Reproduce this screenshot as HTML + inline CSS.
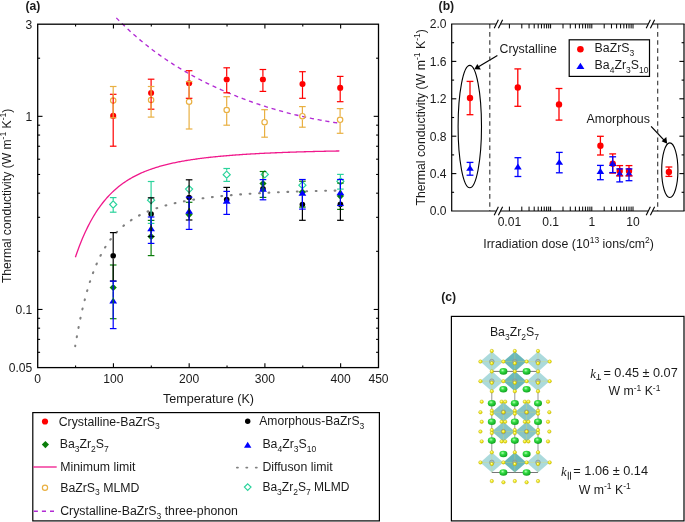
<!DOCTYPE html>
<html><head><meta charset="utf-8"><style>
html,body{margin:0;padding:0;background:#fff;}
svg{display:block;font-family:"Liberation Sans", sans-serif;will-change:transform;}
text{fill:#1a1a1a;}
</style></head><body>
<svg width="685" height="522" viewBox="0 0 685 522">
<defs>
<radialGradient id="gg" cx="0.4" cy="0.35" r="0.7"><stop offset="0" stop-color="#b8ffb8"/><stop offset="0.35" stop-color="#33dd44"/><stop offset="1" stop-color="#0a9a1a"/></radialGradient>
<radialGradient id="gy" cx="0.4" cy="0.35" r="0.7"><stop offset="0" stop-color="#ffffb0"/><stop offset="0.5" stop-color="#f5ef20"/><stop offset="1" stop-color="#cfc300"/></radialGradient>
</defs>
<rect width="685" height="522" fill="#fff"/>
<text x="25.50" y="10.30" font-size="12.2" text-anchor="start" font-weight="bold">(a)</text>
<path d="M75.40 257.19 L76.40 254.27 L77.40 251.44 L78.40 248.70 L79.40 246.05 L80.40 243.48 L81.40 241.00 L82.40 238.59 L83.40 236.25 L84.40 233.99 L85.40 231.80 L86.40 229.67 L87.40 227.62 L88.40 225.62 L89.40 223.69 L90.40 221.81 L91.40 219.99 L92.40 218.23 L93.40 216.52 L94.40 214.86 L95.40 213.25 L96.40 211.69 L97.40 210.18 L98.40 208.71 L99.40 207.29 L100.40 205.91 L101.40 204.56 L102.40 203.26 L103.40 202.00 L104.40 200.77 L105.40 199.58 L106.40 198.42 L107.40 197.30 L108.40 196.21 L109.40 195.15 L110.40 194.12 L111.40 193.12 L112.40 192.14 L113.40 191.20 L114.40 190.28 L115.40 189.39 L116.40 188.52 L117.40 187.67 L118.40 186.85 L119.40 186.05 L120.40 185.28 L121.40 184.52 L122.40 183.79 L123.40 183.07 L124.40 182.38 L125.40 181.70 L126.40 181.04 L127.40 180.40 L128.40 179.77 L129.40 179.16 L130.40 178.57 L131.40 177.99 L132.40 177.43 L133.40 176.88 L134.40 176.34 L135.40 175.82 L136.40 175.32 L137.40 174.82 L138.40 174.34 L139.40 173.87 L140.40 173.41 L141.40 172.96 L142.40 172.52 L143.40 172.10 L144.40 171.68 L145.40 171.27 L146.40 170.88 L147.40 170.49 L148.40 170.11 L149.40 169.74 L150.40 169.38 L151.40 169.03 L152.40 168.69 L153.40 168.35 L154.40 168.02 L155.40 167.70 L156.40 167.39 L157.40 167.08 L158.40 166.78 L159.40 166.49 L160.40 166.20 L161.40 165.92 L162.40 165.64 L163.40 165.38 L164.40 165.11 L165.40 164.86 L166.40 164.60 L167.40 164.36 L168.40 164.12 L169.40 163.88 L170.40 163.65 L171.40 163.42 L172.40 163.20 L173.40 162.98 L174.40 162.77 L175.40 162.56 L176.40 162.35 L177.40 162.15 L178.40 161.96 L179.40 161.76 L180.40 161.58 L181.40 161.39 L182.40 161.21 L183.40 161.03 L184.40 160.85 L185.40 160.68 L186.40 160.51 L187.40 160.35 L188.40 160.19 L189.40 160.03 L190.40 159.87 L191.40 159.72 L192.40 159.57 L193.40 159.42 L194.40 159.27 L195.40 159.13 L196.40 158.99 L197.40 158.85 L198.40 158.72 L199.40 158.58 L200.40 158.45 L201.40 158.33 L202.40 158.20 L203.40 158.08 L204.40 157.95 L205.40 157.83 L206.40 157.72 L207.40 157.60 L208.40 157.49 L209.40 157.37 L210.40 157.26 L211.40 157.16 L212.40 157.05 L213.40 156.94 L214.40 156.84 L215.40 156.74 L216.40 156.64 L217.40 156.54 L218.40 156.45 L219.40 156.35 L220.40 156.26 L221.40 156.16 L222.40 156.07 L223.40 155.98 L224.40 155.90 L225.40 155.81 L226.40 155.73 L227.40 155.64 L228.40 155.56 L229.40 155.48 L230.40 155.40 L231.40 155.32 L232.40 155.24 L233.40 155.16 L234.40 155.09 L235.40 155.01 L236.40 154.94 L237.40 154.87 L238.40 154.80 L239.40 154.73 L240.40 154.66 L241.40 154.59 L242.40 154.52 L243.40 154.46 L244.40 154.39 L245.40 154.33 L246.40 154.27 L247.40 154.20 L248.40 154.14 L249.40 154.08 L250.40 154.02 L251.40 153.96 L252.40 153.91 L253.40 153.85 L254.40 153.79 L255.40 153.74 L256.40 153.68 L257.40 153.63 L258.40 153.57 L259.40 153.52 L260.40 153.47 L261.40 153.42 L262.40 153.37 L263.40 153.32 L264.40 153.27 L265.40 153.22 L266.40 153.17 L267.40 153.13 L268.40 153.08 L269.40 153.03 L270.40 152.99 L271.40 152.94 L272.40 152.90 L273.40 152.86 L274.40 152.81 L275.40 152.77 L276.40 152.73 L277.40 152.69 L278.40 152.65 L279.40 152.61 L280.40 152.57 L281.40 152.53 L282.40 152.49 L283.40 152.46 L284.40 152.42 L285.40 152.38 L286.40 152.34 L287.40 152.31 L288.40 152.27 L289.40 152.24 L290.40 152.20 L291.40 152.17 L292.40 152.14 L293.40 152.10 L294.40 152.07 L295.40 152.04 L296.40 152.01 L297.40 151.97 L298.40 151.94 L299.40 151.91 L300.40 151.88 L301.40 151.85 L302.40 151.82 L303.40 151.79 L304.40 151.77 L305.40 151.74 L306.40 151.71 L307.40 151.68 L308.40 151.65 L309.40 151.63 L310.40 151.60 L311.40 151.57 L312.40 151.55 L313.40 151.52 L314.40 151.50 L315.40 151.47 L316.40 151.45 L317.40 151.42 L318.40 151.40 L319.40 151.38 L320.40 151.35 L321.40 151.33 L322.40 151.31 L323.40 151.29 L324.40 151.26 L325.40 151.24 L326.40 151.22 L327.40 151.20 L328.40 151.18 L329.40 151.16 L330.40 151.14 L331.40 151.12 L332.40 151.10 L333.40 151.08 L334.40 151.06 L335.40 151.04 L336.40 151.02 L337.40 151.00 L338.40 150.98 L339.40 150.96" fill="none" stroke="#f0198c" stroke-width="1.3"/>
<path d="M75.20 346.18 L75.70 343.21 L76.20 340.30 L76.70 337.46 L77.20 334.68 L77.70 331.97 L78.20 329.32 L78.70 326.74 L79.20 324.21 L79.70 321.74 L80.20 319.32 L80.70 316.97 L81.20 314.66 L81.70 312.41 L82.20 310.21 L82.70 308.06 L83.20 305.95 L83.70 303.90 L84.20 301.89 L84.70 299.92 L85.20 298.00 L85.70 296.12 L86.20 294.29 L86.70 292.49 L87.20 290.74 L87.70 289.02 L88.20 287.34 L88.70 285.70 L89.20 284.09 L89.70 282.52 L90.20 280.98 L90.70 279.48 L91.20 278.01 L91.70 276.57 L92.20 275.16 L92.70 273.78 L93.20 272.43 L93.70 271.11 L94.20 269.82 L94.70 268.55 L95.20 267.32 L95.70 266.10 L96.20 264.92 L96.70 263.76 L97.20 262.62 L97.70 261.50 L98.20 260.41 L98.70 259.35 L99.20 258.30 L99.70 257.27 L100.20 256.27 L100.70 255.29 L101.20 254.32 L101.70 253.38 L102.20 252.45 L102.70 251.55 L103.20 250.66 L103.70 249.79 L104.20 248.93 L104.70 248.10 L105.20 247.28 L105.70 246.47 L106.20 245.68 L106.70 244.91 L107.20 244.15 L107.70 243.41 L108.20 242.68 L108.70 241.96 L109.20 241.26 L109.70 240.57 L110.20 239.90 L110.70 239.23 L111.20 238.58 L111.70 237.95 L112.20 237.32 L112.70 236.70 L113.20 236.10 L113.70 235.51 L114.20 234.92 L114.70 234.35 L115.20 233.79 L115.70 233.24 L116.20 232.70 L116.70 232.17 L117.20 231.65 L117.70 231.13 L118.20 230.63 L118.70 230.13 L119.20 229.65 L119.70 229.17 L120.20 228.70 L120.70 228.24 L121.20 227.78 L121.70 227.33 L122.20 226.90 L122.70 226.46 L123.20 226.04 L123.70 225.62 L124.20 225.21 L124.70 224.81 L125.20 224.41 L125.70 224.02 L126.20 223.63 L126.70 223.25 L127.20 222.88 L127.70 222.52 L128.20 222.15 L128.70 221.80 L129.20 221.45 L129.70 221.11 L130.20 220.77 L130.70 220.43 L131.20 220.10 L131.70 219.78 L132.20 219.46 L132.70 219.15 L133.20 218.84 L133.70 218.53 L134.20 218.23 L134.70 217.94 L135.20 217.65 L135.70 217.36 L136.20 217.07 L136.70 216.80 L137.20 216.52 L137.70 216.25 L138.20 215.98 L138.70 215.72 L139.20 215.46 L139.70 215.20 L140.20 214.95 L140.70 214.70 L141.20 214.45 L141.70 214.21 L142.20 213.97 L142.70 213.73 L143.20 213.50 L143.70 213.27 L144.20 213.04 L144.70 212.82 L145.20 212.60 L145.70 212.38 L146.20 212.17 L146.70 211.95 L147.20 211.74 L147.70 211.54 L148.20 211.33 L148.70 211.13 L149.20 210.93 L149.70 210.73 L150.20 210.54 L150.70 210.34 L151.20 210.15 L151.70 209.97 L152.20 209.78 L152.70 209.60 L153.20 209.42 L153.70 209.24 L154.20 209.06 L154.70 208.89 L155.20 208.71 L155.70 208.54 L156.20 208.37 L156.70 208.21 L157.20 208.04 L157.70 207.88 L158.20 207.72 L158.70 207.56 L159.20 207.40 L159.70 207.24 L160.20 207.09 L160.70 206.94 L161.20 206.79 L161.70 206.64 L162.20 206.49 L162.70 206.34 L163.20 206.20 L163.70 206.06 L164.20 205.92 L164.70 205.78 L165.20 205.64 L165.70 205.50 L166.20 205.37 L166.70 205.23 L167.20 205.10 L167.70 204.97 L168.20 204.84 L168.70 204.71 L169.20 204.58 L169.70 204.46 L170.20 204.33 L170.70 204.21 L171.20 204.09 L171.70 203.97 L172.20 203.85 L172.70 203.73 L173.20 203.61 L173.70 203.49 L174.20 203.38 L174.70 203.26 L175.20 203.15 L175.70 203.04 L176.20 202.93 L176.70 202.82 L177.20 202.71 L177.70 202.60 L178.20 202.50 L178.70 202.39 L179.20 202.29 L179.70 202.18 L180.20 202.08 L180.70 201.98 L181.20 201.88 L181.70 201.78 L182.20 201.68 L182.70 201.58 L183.20 201.48 L183.70 201.39 L184.20 201.29 L184.70 201.20 L185.20 201.10 L185.70 201.01 L186.20 200.92 L186.70 200.83 L187.20 200.74 L187.70 200.65 L188.20 200.56 L188.70 200.47 L189.20 200.38 L189.70 200.30 L190.20 200.21 L190.70 200.13 L191.20 200.04 L191.70 199.96 L192.20 199.88 L192.70 199.80 L193.20 199.71 L193.70 199.63 L194.20 199.55 L194.70 199.47 L195.20 199.40 L195.70 199.32 L196.20 199.24 L196.70 199.16 L197.20 199.09 L197.70 199.01 L198.20 198.94 L198.70 198.87 L199.20 198.79 L199.70 198.72 L200.20 198.65 L200.70 198.58 L201.20 198.51 L201.70 198.44 L202.20 198.37 L202.70 198.30 L203.20 198.23 L203.70 198.16 L204.20 198.09 L204.70 198.03 L205.20 197.96 L205.70 197.89 L206.20 197.83 L206.70 197.76 L207.20 197.70 L207.70 197.64 L208.20 197.57 L208.70 197.51 L209.20 197.45 L209.70 197.39 L210.20 197.33 L210.70 197.26 L211.20 197.20 L211.70 197.15 L212.20 197.09 L212.70 197.03 L213.20 196.97 L213.70 196.91 L214.20 196.85 L214.70 196.80 L215.20 196.74 L215.70 196.69 L216.20 196.63 L216.70 196.57 L217.20 196.52 L217.70 196.47 L218.20 196.41 L218.70 196.36 L219.20 196.31 L219.70 196.25 L220.20 196.20 L220.70 196.15 L221.20 196.10 L221.70 196.05 L222.20 196.00 L222.70 195.95 L223.20 195.90 L223.70 195.85 L224.20 195.80 L224.70 195.75 L225.20 195.70 L225.70 195.66 L226.20 195.61 L226.70 195.56 L227.20 195.52 L227.70 195.47 L228.20 195.42 L228.70 195.38 L229.20 195.33 L229.70 195.29 L230.20 195.24 L230.70 195.20 L231.20 195.16 L231.70 195.11 L232.20 195.07 L232.70 195.03 L233.20 194.98 L233.70 194.94 L234.20 194.90 L234.70 194.86 L235.20 194.82 L235.70 194.78 L236.20 194.74 L236.70 194.70 L237.20 194.66 L237.70 194.62 L238.20 194.58 L238.70 194.54 L239.20 194.50 L239.70 194.46 L240.20 194.42 L240.70 194.39 L241.20 194.35 L241.70 194.31 L242.20 194.27 L242.70 194.24 L243.20 194.20 L243.70 194.16 L244.20 194.13 L244.70 194.09 L245.20 194.06 L245.70 194.02 L246.20 193.99 L246.70 193.95 L247.20 193.92 L247.70 193.89 L248.20 193.85 L248.70 193.82 L249.20 193.79 L249.70 193.75 L250.20 193.72 L250.70 193.69 L251.20 193.65 L251.70 193.62 L252.20 193.59 L252.70 193.56 L253.20 193.53 L253.70 193.50 L254.20 193.47 L254.70 193.44 L255.20 193.41 L255.70 193.38 L256.20 193.35 L256.70 193.32 L257.20 193.29 L257.70 193.26 L258.20 193.23 L258.70 193.20 L259.20 193.17 L259.70 193.14 L260.20 193.12 L260.70 193.09 L261.20 193.06 L261.70 193.03 L262.20 193.01 L262.70 192.98 L263.20 192.95 L263.70 192.93 L264.20 192.90 L264.70 192.87 L265.20 192.85 L265.70 192.82 L266.20 192.79 L266.70 192.77 L267.20 192.74 L267.70 192.72 L268.20 192.69 L268.70 192.67 L269.20 192.65 L269.70 192.62 L270.20 192.60 L270.70 192.57 L271.20 192.55 L271.70 192.53 L272.20 192.50 L272.70 192.48 L273.20 192.46 L273.70 192.43 L274.20 192.41 L274.70 192.39 L275.20 192.37 L275.70 192.34 L276.20 192.32 L276.70 192.30 L277.20 192.28 L277.70 192.26 L278.20 192.23 L278.70 192.21 L279.20 192.19 L279.70 192.17 L280.20 192.15 L280.70 192.13 L281.20 192.11 L281.70 192.09 L282.20 192.07 L282.70 192.05 L283.20 192.03 L283.70 192.01 L284.20 191.99 L284.70 191.97 L285.20 191.95 L285.70 191.93 L286.20 191.91 L286.70 191.89 L287.20 191.88 L287.70 191.86 L288.20 191.84 L288.70 191.82 L289.20 191.80 L289.70 191.78 L290.20 191.77 L290.70 191.75 L291.20 191.73 L291.70 191.71 L292.20 191.70 L292.70 191.68 L293.20 191.66 L293.70 191.64 L294.20 191.63 L294.70 191.61 L295.20 191.59 L295.70 191.58 L296.20 191.56 L296.70 191.55 L297.20 191.53 L297.70 191.51 L298.20 191.50 L298.70 191.48 L299.20 191.47 L299.70 191.45 L300.20 191.44 L300.70 191.42 L301.20 191.41 L301.70 191.39 L302.20 191.38 L302.70 191.36 L303.20 191.35 L303.70 191.33 L304.20 191.32 L304.70 191.30 L305.20 191.29 L305.70 191.27 L306.20 191.26 L306.70 191.25 L307.20 191.23 L307.70 191.22 L308.20 191.20 L308.70 191.19 L309.20 191.18 L309.70 191.16 L310.20 191.15 L310.70 191.14 L311.20 191.13 L311.70 191.11 L312.20 191.10 L312.70 191.09 L313.20 191.07 L313.70 191.06 L314.20 191.05 L314.70 191.04 L315.20 191.02 L315.70 191.01 L316.20 191.00 L316.70 190.99 L317.20 190.98 L317.70 190.96 L318.20 190.95 L318.70 190.94 L319.20 190.93 L319.70 190.92 L320.20 190.91 L320.70 190.90 L321.20 190.88 L321.70 190.87 L322.20 190.86 L322.70 190.85 L323.20 190.84 L323.70 190.83 L324.20 190.82 L324.70 190.81 L325.20 190.80 L325.70 190.79 L326.20 190.78 L326.70 190.77 L327.20 190.76 L327.70 190.75 L328.20 190.74 L328.70 190.73 L329.20 190.72 L329.70 190.71 L330.20 190.70 L330.70 190.69 L331.20 190.68 L331.70 190.67 L332.20 190.66 L332.70 190.65 L333.20 190.64 L333.70 190.63 L334.20 190.62 L334.70 190.61 L335.20 190.60 L335.70 190.59 L336.20 190.58 L336.70 190.57 L337.20 190.57 L337.70 190.56 L338.20 190.55 L338.70 190.54 L339.20 190.53 L339.70 190.52" fill="none" stroke="#808080" stroke-width="2.1" stroke-linecap="round" stroke-dasharray="0.8 8.6523" stroke-dashoffset="0.29"/>
<path d="M116.30 17.87 L117.30 18.89 L118.30 19.90 L119.30 20.90 L120.30 21.89 L121.30 22.88 L122.30 23.86 L123.30 24.82 L124.30 25.79 L125.30 26.74 L126.30 27.68 L127.30 28.62 L128.30 29.55 L129.30 30.47 L130.30 31.39 L131.30 32.30 L132.30 33.20 L133.30 34.09 L134.30 34.97 L135.30 35.85 L136.30 36.72 L137.30 37.59 L138.30 38.44 L139.30 39.29 L140.30 40.13 L141.30 40.97 L142.30 41.80 L143.30 42.62 L144.30 43.43 L145.30 44.24 L146.30 45.04 L147.30 45.83 L148.30 46.62 L149.30 47.40 L150.30 48.18 L151.30 48.95 L152.30 49.71 L153.30 50.46 L154.30 51.21 L155.30 51.96 L156.30 52.69 L157.30 53.42 L158.30 54.15 L159.30 54.86 L160.30 55.58 L161.30 56.28 L162.30 56.98 L163.30 57.68 L164.30 58.37 L165.30 59.05 L166.30 59.73 L167.30 60.40 L168.30 61.07 L169.30 61.73 L170.30 62.38 L171.30 63.03 L172.30 63.68 L173.30 64.32 L174.30 64.95 L175.30 65.58 L176.30 66.20 L177.30 66.82 L178.30 67.44 L179.30 68.04 L180.30 68.65 L181.30 69.25 L182.30 69.84 L183.30 70.43 L184.30 71.01 L185.30 71.59 L186.30 72.17 L187.30 72.74 L188.30 73.31 L189.30 73.87 L190.30 74.43 L191.30 74.98 L192.30 75.53 L193.30 76.07 L194.30 76.61 L195.30 77.15 L196.30 77.68 L197.30 78.21 L198.30 78.73 L199.30 79.25 L200.30 79.77 L201.30 80.28 L202.30 80.79 L203.30 81.29 L204.30 81.80 L205.30 82.29 L206.30 82.79 L207.30 83.28 L208.30 83.77 L209.30 84.25 L210.30 84.73 L211.30 85.21 L212.30 85.68 L213.30 86.15 L214.30 86.62 L215.30 87.08 L216.30 87.54 L217.30 88.00 L218.30 88.46 L219.30 88.91 L220.30 89.36 L221.30 89.80 L222.30 90.25 L223.30 90.68 L224.30 91.12 L225.30 91.55 L226.30 91.98 L227.30 92.41 L228.30 92.83 L229.30 93.25 L230.30 93.67 L231.30 94.09 L232.30 94.50 L233.30 94.91 L234.30 95.31 L235.30 95.72 L236.30 96.12 L237.30 96.51 L238.30 96.91 L239.30 97.30 L240.30 97.68 L241.30 98.07 L242.30 98.45 L243.30 98.83 L244.30 99.21 L245.30 99.58 L246.30 99.95 L247.30 100.32 L248.30 100.68 L249.30 101.05 L250.30 101.40 L251.30 101.76 L252.30 102.11 L253.30 102.46 L254.30 102.81 L255.30 103.16 L256.30 103.50 L257.30 103.84 L258.30 104.18 L259.30 104.51 L260.30 104.84 L261.30 105.17 L262.30 105.50 L263.30 105.82 L264.30 106.14 L265.30 106.46 L266.30 106.77 L267.30 107.08 L268.30 107.39 L269.30 107.70 L270.30 108.00 L271.30 108.31 L272.30 108.61 L273.30 108.90 L274.30 109.20 L275.30 109.49 L276.30 109.78 L277.30 110.06 L278.30 110.35 L279.30 110.63 L280.30 110.91 L281.30 111.18 L282.30 111.46 L283.30 111.73 L284.30 112.00 L285.30 112.26 L286.30 112.52 L287.30 112.79 L288.30 113.04 L289.30 113.30 L290.30 113.55 L291.30 113.81 L292.30 114.05 L293.30 114.30 L294.30 114.55 L295.30 114.79 L296.30 115.03 L297.30 115.26 L298.30 115.50 L299.30 115.73 L300.30 115.96 L301.30 116.19 L302.30 116.41 L303.30 116.64 L304.30 116.86 L305.30 117.07 L306.30 117.29 L307.30 117.50 L308.30 117.72 L309.30 117.93 L310.30 118.13 L311.30 118.34 L312.30 118.54 L313.30 118.74 L314.30 118.94 L315.30 119.13 L316.30 119.33 L317.30 119.52 L318.30 119.71 L319.30 119.90 L320.30 120.08 L321.30 120.27 L322.30 120.45 L323.30 120.63 L324.30 120.80 L325.30 120.98 L326.30 121.15 L327.30 121.32 L328.30 121.49 L329.30 121.66 L330.30 121.82 L331.30 121.98 L332.30 122.14 L333.30 122.30 L334.30 122.46 L335.30 122.61 L336.30 122.76 L337.30 122.91 L338.30 123.06 L339.30 123.21" fill="none" stroke="#b22ad4" stroke-width="1.35" stroke-dasharray="4.1 3.8"/>
<circle cx="113.20" cy="115.90" r="3.05" fill="#ff0000" stroke="none" stroke-width="0"/>
<circle cx="151.10" cy="93.00" r="3.05" fill="#ff0000" stroke="none" stroke-width="0"/>
<circle cx="189.10" cy="83.30" r="3.05" fill="#ff0000" stroke="none" stroke-width="0"/>
<circle cx="226.70" cy="79.50" r="3.05" fill="#ff0000" stroke="none" stroke-width="0"/>
<circle cx="262.90" cy="79.50" r="3.05" fill="#ff0000" stroke="none" stroke-width="0"/>
<circle cx="302.50" cy="84.10" r="3.05" fill="#ff0000" stroke="none" stroke-width="0"/>
<circle cx="340.20" cy="87.90" r="3.05" fill="#ff0000" stroke="none" stroke-width="0"/>
<circle cx="113.20" cy="100.60" r="2.7" fill="none" stroke="#e9b042" stroke-width="1.2"/>
<circle cx="151.10" cy="100.00" r="2.7" fill="none" stroke="#e9b042" stroke-width="1.2"/>
<circle cx="189.10" cy="101.70" r="2.7" fill="none" stroke="#e9b042" stroke-width="1.2"/>
<circle cx="226.70" cy="110.00" r="2.7" fill="none" stroke="#e9b042" stroke-width="1.2"/>
<circle cx="264.60" cy="122.20" r="2.7" fill="none" stroke="#e9b042" stroke-width="1.2"/>
<circle cx="302.40" cy="116.20" r="2.7" fill="none" stroke="#e9b042" stroke-width="1.2"/>
<circle cx="340.10" cy="119.80" r="2.7" fill="none" stroke="#e9b042" stroke-width="1.2"/>
<circle cx="113.20" cy="255.70" r="2.8" fill="#000000" stroke="none" stroke-width="0"/>
<circle cx="151.10" cy="214.10" r="2.8" fill="#000000" stroke="none" stroke-width="0"/>
<circle cx="189.10" cy="197.50" r="2.8" fill="#000000" stroke="none" stroke-width="0"/>
<circle cx="226.70" cy="199.60" r="2.8" fill="#000000" stroke="none" stroke-width="0"/>
<circle cx="263.00" cy="188.70" r="2.8" fill="#000000" stroke="none" stroke-width="0"/>
<circle cx="302.40" cy="204.60" r="2.8" fill="#000000" stroke="none" stroke-width="0"/>
<circle cx="340.40" cy="204.20" r="2.8" fill="#000000" stroke="none" stroke-width="0"/>
<path d="M113.20 284.00 L116.80 287.60 L113.20 291.20 L109.60 287.60 Z" fill="#0a7d0a" stroke="none" stroke-width="0"/>
<path d="M151.10 233.00 L154.70 236.60 L151.10 240.20 L147.50 236.60 Z" fill="#0a7d0a" stroke="none" stroke-width="0"/>
<path d="M189.10 211.00 L192.70 214.60 L189.10 218.20 L185.50 214.60 Z" fill="#0a7d0a" stroke="none" stroke-width="0"/>
<path d="M263.00 179.90 L266.60 183.50 L263.00 187.10 L259.40 183.50 Z" fill="#0a7d0a" stroke="none" stroke-width="0"/>
<path d="M302.40 188.50 L306.00 192.10 L302.40 195.70 L298.80 192.10 Z" fill="#0a7d0a" stroke="none" stroke-width="0"/>
<path d="M340.40 192.50 L344.00 196.10 L340.40 199.70 L336.80 196.10 Z" fill="#0a7d0a" stroke="none" stroke-width="0"/>
<path d="M113.20 297.49 L117.10 303.57 L109.30 303.57 Z" fill="#0000ff"/>
<path d="M151.10 225.19 L155.00 231.27 L147.20 231.27 Z" fill="#0000ff"/>
<path d="M189.10 207.79 L193.00 213.87 L185.20 213.87 Z" fill="#0000ff"/>
<path d="M226.70 197.59 L230.60 203.67 L222.80 203.67 Z" fill="#0000ff"/>
<path d="M263.00 185.69 L266.90 191.77 L259.10 191.77 Z" fill="#0000ff"/>
<path d="M302.40 189.79 L306.30 195.87 L298.50 195.87 Z" fill="#0000ff"/>
<path d="M340.40 189.29 L344.30 195.37 L336.50 195.37 Z" fill="#0000ff"/>
<path d="M113.20 200.95 L116.75 204.50 L113.20 208.05 L109.65 204.50 Z" fill="none" stroke="#2bd39c" stroke-width="1.2"/>
<path d="M151.10 196.65 L154.65 200.20 L151.10 203.75 L147.55 200.20 Z" fill="none" stroke="#2bd39c" stroke-width="1.2"/>
<path d="M189.10 185.55 L192.65 189.10 L189.10 192.65 L185.55 189.10 Z" fill="none" stroke="#2bd39c" stroke-width="1.2"/>
<path d="M226.70 171.15 L230.25 174.70 L226.70 178.25 L223.15 174.70 Z" fill="none" stroke="#2bd39c" stroke-width="1.2"/>
<path d="M264.80 170.85 L268.35 174.40 L264.80 177.95 L261.25 174.40 Z" fill="none" stroke="#2bd39c" stroke-width="1.2"/>
<path d="M302.40 181.65 L305.95 185.20 L302.40 188.75 L298.85 185.20 Z" fill="none" stroke="#2bd39c" stroke-width="1.2"/>
<path d="M340.40 177.75 L343.95 181.30 L340.40 184.85 L336.85 181.30 Z" fill="none" stroke="#2bd39c" stroke-width="1.2"/>
<line x1="113.20" y1="94.30" x2="113.20" y2="112.90" stroke="#ff0000" stroke-width="1.2" />
<line x1="109.90" y1="94.30" x2="116.50" y2="94.30" stroke="#ff0000" stroke-width="1.2" />
<line x1="113.20" y1="118.90" x2="113.20" y2="146.20" stroke="#ff0000" stroke-width="1.2" />
<line x1="109.90" y1="146.20" x2="116.50" y2="146.20" stroke="#ff0000" stroke-width="1.2" />
<line x1="151.10" y1="79.20" x2="151.10" y2="90.00" stroke="#ff0000" stroke-width="1.2" />
<line x1="147.80" y1="79.20" x2="154.40" y2="79.20" stroke="#ff0000" stroke-width="1.2" />
<line x1="151.10" y1="96.00" x2="151.10" y2="109.20" stroke="#ff0000" stroke-width="1.2" />
<line x1="147.80" y1="109.20" x2="154.40" y2="109.20" stroke="#ff0000" stroke-width="1.2" />
<line x1="189.10" y1="70.70" x2="189.10" y2="80.30" stroke="#ff0000" stroke-width="1.2" />
<line x1="185.80" y1="70.70" x2="192.40" y2="70.70" stroke="#ff0000" stroke-width="1.2" />
<line x1="189.10" y1="86.30" x2="189.10" y2="98.30" stroke="#ff0000" stroke-width="1.2" />
<line x1="185.80" y1="98.30" x2="192.40" y2="98.30" stroke="#ff0000" stroke-width="1.2" />
<line x1="226.70" y1="67.80" x2="226.70" y2="76.50" stroke="#ff0000" stroke-width="1.2" />
<line x1="223.40" y1="67.80" x2="230.00" y2="67.80" stroke="#ff0000" stroke-width="1.2" />
<line x1="226.70" y1="82.50" x2="226.70" y2="92.80" stroke="#ff0000" stroke-width="1.2" />
<line x1="223.40" y1="92.80" x2="230.00" y2="92.80" stroke="#ff0000" stroke-width="1.2" />
<line x1="262.90" y1="69.50" x2="262.90" y2="76.50" stroke="#ff0000" stroke-width="1.2" />
<line x1="259.60" y1="69.50" x2="266.20" y2="69.50" stroke="#ff0000" stroke-width="1.2" />
<line x1="262.90" y1="82.50" x2="262.90" y2="91.40" stroke="#ff0000" stroke-width="1.2" />
<line x1="259.60" y1="91.40" x2="266.20" y2="91.40" stroke="#ff0000" stroke-width="1.2" />
<line x1="302.50" y1="71.70" x2="302.50" y2="81.10" stroke="#ff0000" stroke-width="1.2" />
<line x1="299.20" y1="71.70" x2="305.80" y2="71.70" stroke="#ff0000" stroke-width="1.2" />
<line x1="302.50" y1="87.10" x2="302.50" y2="98.30" stroke="#ff0000" stroke-width="1.2" />
<line x1="299.20" y1="98.30" x2="305.80" y2="98.30" stroke="#ff0000" stroke-width="1.2" />
<line x1="340.20" y1="76.40" x2="340.20" y2="84.90" stroke="#ff0000" stroke-width="1.2" />
<line x1="336.90" y1="76.40" x2="343.50" y2="76.40" stroke="#ff0000" stroke-width="1.2" />
<line x1="340.20" y1="90.90" x2="340.20" y2="101.70" stroke="#ff0000" stroke-width="1.2" />
<line x1="336.90" y1="101.70" x2="343.50" y2="101.70" stroke="#ff0000" stroke-width="1.2" />
<line x1="113.20" y1="86.50" x2="113.20" y2="97.40" stroke="#e9b042" stroke-width="1.2" />
<line x1="109.90" y1="86.50" x2="116.50" y2="86.50" stroke="#e9b042" stroke-width="1.2" />
<line x1="113.20" y1="103.80" x2="113.20" y2="117.80" stroke="#e9b042" stroke-width="1.2" />
<line x1="109.90" y1="117.80" x2="116.50" y2="117.80" stroke="#e9b042" stroke-width="1.2" />
<line x1="151.10" y1="86.50" x2="151.10" y2="96.80" stroke="#e9b042" stroke-width="1.2" />
<line x1="147.80" y1="86.50" x2="154.40" y2="86.50" stroke="#e9b042" stroke-width="1.2" />
<line x1="151.10" y1="103.20" x2="151.10" y2="117.10" stroke="#e9b042" stroke-width="1.2" />
<line x1="147.80" y1="117.10" x2="154.40" y2="117.10" stroke="#e9b042" stroke-width="1.2" />
<line x1="189.10" y1="81.60" x2="189.10" y2="98.50" stroke="#e9b042" stroke-width="1.2" />
<line x1="185.80" y1="81.60" x2="192.40" y2="81.60" stroke="#e9b042" stroke-width="1.2" />
<line x1="189.10" y1="104.90" x2="189.10" y2="129.00" stroke="#e9b042" stroke-width="1.2" />
<line x1="185.80" y1="129.00" x2="192.40" y2="129.00" stroke="#e9b042" stroke-width="1.2" />
<line x1="226.70" y1="96.70" x2="226.70" y2="106.80" stroke="#e9b042" stroke-width="1.2" />
<line x1="223.40" y1="96.70" x2="230.00" y2="96.70" stroke="#e9b042" stroke-width="1.2" />
<line x1="226.70" y1="113.20" x2="226.70" y2="125.20" stroke="#e9b042" stroke-width="1.2" />
<line x1="223.40" y1="125.20" x2="230.00" y2="125.20" stroke="#e9b042" stroke-width="1.2" />
<line x1="264.60" y1="109.70" x2="264.60" y2="119.00" stroke="#e9b042" stroke-width="1.2" />
<line x1="261.30" y1="109.70" x2="267.90" y2="109.70" stroke="#e9b042" stroke-width="1.2" />
<line x1="264.60" y1="125.40" x2="264.60" y2="137.20" stroke="#e9b042" stroke-width="1.2" />
<line x1="261.30" y1="137.20" x2="267.90" y2="137.20" stroke="#e9b042" stroke-width="1.2" />
<line x1="302.40" y1="106.60" x2="302.40" y2="113.00" stroke="#e9b042" stroke-width="1.2" />
<line x1="299.10" y1="106.60" x2="305.70" y2="106.60" stroke="#e9b042" stroke-width="1.2" />
<line x1="302.40" y1="119.40" x2="302.40" y2="127.20" stroke="#e9b042" stroke-width="1.2" />
<line x1="299.10" y1="127.20" x2="305.70" y2="127.20" stroke="#e9b042" stroke-width="1.2" />
<line x1="340.10" y1="108.60" x2="340.10" y2="116.60" stroke="#e9b042" stroke-width="1.2" />
<line x1="336.80" y1="108.60" x2="343.40" y2="108.60" stroke="#e9b042" stroke-width="1.2" />
<line x1="340.10" y1="123.00" x2="340.10" y2="133.30" stroke="#e9b042" stroke-width="1.2" />
<line x1="336.80" y1="133.30" x2="343.40" y2="133.30" stroke="#e9b042" stroke-width="1.2" />
<line x1="113.20" y1="265.00" x2="113.20" y2="284.00" stroke="#0a7d0a" stroke-width="1.2" />
<line x1="109.90" y1="265.00" x2="116.50" y2="265.00" stroke="#0a7d0a" stroke-width="1.2" />
<line x1="113.20" y1="291.20" x2="113.20" y2="318.70" stroke="#0a7d0a" stroke-width="1.2" />
<line x1="109.90" y1="318.70" x2="116.50" y2="318.70" stroke="#0a7d0a" stroke-width="1.2" />
<line x1="151.10" y1="220.40" x2="151.10" y2="233.00" stroke="#0a7d0a" stroke-width="1.2" />
<line x1="147.80" y1="220.40" x2="154.40" y2="220.40" stroke="#0a7d0a" stroke-width="1.2" />
<line x1="151.10" y1="240.20" x2="151.10" y2="255.60" stroke="#0a7d0a" stroke-width="1.2" />
<line x1="147.80" y1="255.60" x2="154.40" y2="255.60" stroke="#0a7d0a" stroke-width="1.2" />
<line x1="189.10" y1="202.30" x2="189.10" y2="211.00" stroke="#0a7d0a" stroke-width="1.2" />
<line x1="185.80" y1="202.30" x2="192.40" y2="202.30" stroke="#0a7d0a" stroke-width="1.2" />
<line x1="263.00" y1="171.50" x2="263.00" y2="179.90" stroke="#0a7d0a" stroke-width="1.2" />
<line x1="259.70" y1="171.50" x2="266.30" y2="171.50" stroke="#0a7d0a" stroke-width="1.2" />
<line x1="263.00" y1="187.10" x2="263.00" y2="197.40" stroke="#0a7d0a" stroke-width="1.2" />
<line x1="259.70" y1="197.40" x2="266.30" y2="197.40" stroke="#0a7d0a" stroke-width="1.2" />
<line x1="302.40" y1="181.20" x2="302.40" y2="188.50" stroke="#0a7d0a" stroke-width="1.2" />
<line x1="299.10" y1="181.20" x2="305.70" y2="181.20" stroke="#0a7d0a" stroke-width="1.2" />
<line x1="302.40" y1="195.70" x2="302.40" y2="207.10" stroke="#0a7d0a" stroke-width="1.2" />
<line x1="299.10" y1="207.10" x2="305.70" y2="207.10" stroke="#0a7d0a" stroke-width="1.2" />
<line x1="340.40" y1="183.10" x2="340.40" y2="192.50" stroke="#0a7d0a" stroke-width="1.2" />
<line x1="337.10" y1="183.10" x2="343.70" y2="183.10" stroke="#0a7d0a" stroke-width="1.2" />
<line x1="340.40" y1="199.70" x2="340.40" y2="209.40" stroke="#0a7d0a" stroke-width="1.2" />
<line x1="337.10" y1="209.40" x2="343.70" y2="209.40" stroke="#0a7d0a" stroke-width="1.2" />
<line x1="113.20" y1="232.60" x2="113.20" y2="252.90" stroke="#000000" stroke-width="1.2" />
<line x1="109.90" y1="232.60" x2="116.50" y2="232.60" stroke="#000000" stroke-width="1.2" />
<line x1="113.20" y1="258.50" x2="113.20" y2="281.10" stroke="#000000" stroke-width="1.2" />
<line x1="109.90" y1="281.10" x2="116.50" y2="281.10" stroke="#000000" stroke-width="1.2" />
<line x1="151.10" y1="197.80" x2="151.10" y2="211.30" stroke="#000000" stroke-width="1.2" />
<line x1="147.80" y1="197.80" x2="154.40" y2="197.80" stroke="#000000" stroke-width="1.2" />
<line x1="151.10" y1="216.90" x2="151.10" y2="236.50" stroke="#000000" stroke-width="1.2" />
<line x1="147.80" y1="236.50" x2="154.40" y2="236.50" stroke="#000000" stroke-width="1.2" />
<line x1="189.10" y1="179.80" x2="189.10" y2="194.70" stroke="#000000" stroke-width="1.2" />
<line x1="185.80" y1="179.80" x2="192.40" y2="179.80" stroke="#000000" stroke-width="1.2" />
<line x1="189.10" y1="200.30" x2="189.10" y2="220.00" stroke="#000000" stroke-width="1.2" />
<line x1="185.80" y1="220.00" x2="192.40" y2="220.00" stroke="#000000" stroke-width="1.2" />
<line x1="226.70" y1="187.40" x2="226.70" y2="196.80" stroke="#000000" stroke-width="1.2" />
<line x1="223.40" y1="187.40" x2="230.00" y2="187.40" stroke="#000000" stroke-width="1.2" />
<line x1="302.40" y1="207.40" x2="302.40" y2="220.30" stroke="#000000" stroke-width="1.2" />
<line x1="299.10" y1="220.30" x2="305.70" y2="220.30" stroke="#000000" stroke-width="1.2" />
<line x1="340.40" y1="207.00" x2="340.40" y2="220.30" stroke="#000000" stroke-width="1.2" />
<line x1="337.10" y1="220.30" x2="343.70" y2="220.30" stroke="#000000" stroke-width="1.2" />
<line x1="113.20" y1="197.60" x2="113.20" y2="200.40" stroke="#2bd39c" stroke-width="1.2" />
<line x1="109.90" y1="197.60" x2="116.50" y2="197.60" stroke="#2bd39c" stroke-width="1.2" />
<line x1="113.20" y1="208.60" x2="113.20" y2="212.20" stroke="#2bd39c" stroke-width="1.2" />
<line x1="109.90" y1="212.20" x2="116.50" y2="212.20" stroke="#2bd39c" stroke-width="1.2" />
<line x1="151.10" y1="181.50" x2="151.10" y2="196.10" stroke="#2bd39c" stroke-width="1.2" />
<line x1="147.80" y1="181.50" x2="154.40" y2="181.50" stroke="#2bd39c" stroke-width="1.2" />
<line x1="151.10" y1="204.30" x2="151.10" y2="223.40" stroke="#2bd39c" stroke-width="1.2" />
<line x1="147.80" y1="223.40" x2="154.40" y2="223.40" stroke="#2bd39c" stroke-width="1.2" />
<line x1="226.70" y1="168.50" x2="226.70" y2="170.60" stroke="#2bd39c" stroke-width="1.2" />
<line x1="223.40" y1="168.50" x2="230.00" y2="168.50" stroke="#2bd39c" stroke-width="1.2" />
<line x1="226.70" y1="178.80" x2="226.70" y2="181.40" stroke="#2bd39c" stroke-width="1.2" />
<line x1="223.40" y1="181.40" x2="230.00" y2="181.40" stroke="#2bd39c" stroke-width="1.2" />
<line x1="340.40" y1="174.40" x2="340.40" y2="177.20" stroke="#2bd39c" stroke-width="1.2" />
<line x1="337.10" y1="174.40" x2="343.70" y2="174.40" stroke="#2bd39c" stroke-width="1.2" />
<line x1="340.40" y1="185.40" x2="340.40" y2="189.10" stroke="#2bd39c" stroke-width="1.2" />
<line x1="337.10" y1="189.10" x2="343.70" y2="189.10" stroke="#2bd39c" stroke-width="1.2" />
<line x1="113.20" y1="281.10" x2="113.20" y2="297.70" stroke="#0000ff" stroke-width="1.2" />
<line x1="109.90" y1="281.10" x2="116.50" y2="281.10" stroke="#0000ff" stroke-width="1.2" />
<line x1="113.20" y1="303.40" x2="113.20" y2="328.60" stroke="#0000ff" stroke-width="1.2" />
<line x1="109.90" y1="328.60" x2="116.50" y2="328.60" stroke="#0000ff" stroke-width="1.2" />
<line x1="151.10" y1="217.00" x2="151.10" y2="225.40" stroke="#0000ff" stroke-width="1.2" />
<line x1="147.80" y1="217.00" x2="154.40" y2="217.00" stroke="#0000ff" stroke-width="1.2" />
<line x1="151.10" y1="231.10" x2="151.10" y2="243.40" stroke="#0000ff" stroke-width="1.2" />
<line x1="147.80" y1="243.40" x2="154.40" y2="243.40" stroke="#0000ff" stroke-width="1.2" />
<line x1="189.10" y1="197.20" x2="189.10" y2="208.00" stroke="#0000ff" stroke-width="1.2" />
<line x1="185.80" y1="197.20" x2="192.40" y2="197.20" stroke="#0000ff" stroke-width="1.2" />
<line x1="189.10" y1="213.70" x2="189.10" y2="229.40" stroke="#0000ff" stroke-width="1.2" />
<line x1="185.80" y1="229.40" x2="192.40" y2="229.40" stroke="#0000ff" stroke-width="1.2" />
<line x1="226.70" y1="191.40" x2="226.70" y2="197.80" stroke="#0000ff" stroke-width="1.2" />
<line x1="223.40" y1="191.40" x2="230.00" y2="191.40" stroke="#0000ff" stroke-width="1.2" />
<line x1="226.70" y1="203.50" x2="226.70" y2="214.40" stroke="#0000ff" stroke-width="1.2" />
<line x1="223.40" y1="214.40" x2="230.00" y2="214.40" stroke="#0000ff" stroke-width="1.2" />
<line x1="263.00" y1="179.60" x2="263.00" y2="185.90" stroke="#0000ff" stroke-width="1.2" />
<line x1="259.70" y1="179.60" x2="266.30" y2="179.60" stroke="#0000ff" stroke-width="1.2" />
<line x1="263.00" y1="191.60" x2="263.00" y2="199.80" stroke="#0000ff" stroke-width="1.2" />
<line x1="259.70" y1="199.80" x2="266.30" y2="199.80" stroke="#0000ff" stroke-width="1.2" />
<line x1="302.40" y1="179.50" x2="302.40" y2="190.00" stroke="#0000ff" stroke-width="1.2" />
<line x1="299.10" y1="179.50" x2="305.70" y2="179.50" stroke="#0000ff" stroke-width="1.2" />
<line x1="302.40" y1="195.70" x2="302.40" y2="209.10" stroke="#0000ff" stroke-width="1.2" />
<line x1="299.10" y1="209.10" x2="305.70" y2="209.10" stroke="#0000ff" stroke-width="1.2" />
<line x1="340.40" y1="179.50" x2="340.40" y2="189.50" stroke="#0000ff" stroke-width="1.2" />
<line x1="337.10" y1="179.50" x2="343.70" y2="179.50" stroke="#0000ff" stroke-width="1.2" />
<line x1="340.40" y1="195.20" x2="340.40" y2="205.50" stroke="#0000ff" stroke-width="1.2" />
<line x1="337.10" y1="205.50" x2="343.70" y2="205.50" stroke="#0000ff" stroke-width="1.2" />
<rect x="37.7" y="24.2" width="340.8" height="343.40000000000003" fill="none" stroke="#000" stroke-width="1.3"/>
<line x1="75.57" y1="367.60" x2="75.57" y2="365.40" stroke="#000" stroke-width="1.1" />
<line x1="75.57" y1="24.20" x2="75.57" y2="26.40" stroke="#000" stroke-width="1.1" />
<line x1="113.43" y1="367.60" x2="113.43" y2="363.20" stroke="#000" stroke-width="1.1" />
<line x1="113.43" y1="24.20" x2="113.43" y2="28.60" stroke="#000" stroke-width="1.1" />
<line x1="151.30" y1="367.60" x2="151.30" y2="365.40" stroke="#000" stroke-width="1.1" />
<line x1="151.30" y1="24.20" x2="151.30" y2="26.40" stroke="#000" stroke-width="1.1" />
<line x1="189.17" y1="367.60" x2="189.17" y2="363.20" stroke="#000" stroke-width="1.1" />
<line x1="189.17" y1="24.20" x2="189.17" y2="28.60" stroke="#000" stroke-width="1.1" />
<line x1="227.03" y1="367.60" x2="227.03" y2="365.40" stroke="#000" stroke-width="1.1" />
<line x1="227.03" y1="24.20" x2="227.03" y2="26.40" stroke="#000" stroke-width="1.1" />
<line x1="264.90" y1="367.60" x2="264.90" y2="363.20" stroke="#000" stroke-width="1.1" />
<line x1="264.90" y1="24.20" x2="264.90" y2="28.60" stroke="#000" stroke-width="1.1" />
<line x1="302.77" y1="367.60" x2="302.77" y2="365.40" stroke="#000" stroke-width="1.1" />
<line x1="302.77" y1="24.20" x2="302.77" y2="26.40" stroke="#000" stroke-width="1.1" />
<line x1="340.63" y1="367.60" x2="340.63" y2="363.20" stroke="#000" stroke-width="1.1" />
<line x1="340.63" y1="24.20" x2="340.63" y2="28.60" stroke="#000" stroke-width="1.1" />
<text x="37.70" y="382.70" font-size="12.1" text-anchor="middle" >0</text>
<text x="113.43" y="382.70" font-size="12.1" text-anchor="middle" >100</text>
<text x="189.17" y="382.70" font-size="12.1" text-anchor="middle" >200</text>
<text x="264.90" y="382.70" font-size="12.1" text-anchor="middle" >300</text>
<text x="340.63" y="382.70" font-size="12.1" text-anchor="middle" >400</text>
<text x="378.50" y="382.70" font-size="12.1" text-anchor="middle" >450</text>
<line x1="37.70" y1="309.46" x2="42.50" y2="309.46" stroke="#000" stroke-width="1.1" />
<line x1="378.50" y1="309.46" x2="373.70" y2="309.46" stroke="#000" stroke-width="1.1" />
<line x1="37.70" y1="116.34" x2="42.50" y2="116.34" stroke="#000" stroke-width="1.1" />
<line x1="378.50" y1="116.34" x2="373.70" y2="116.34" stroke="#000" stroke-width="1.1" />
<line x1="37.70" y1="352.31" x2="40.10" y2="352.31" stroke="#000" stroke-width="1.1" />
<line x1="378.50" y1="352.31" x2="376.10" y2="352.31" stroke="#000" stroke-width="1.1" />
<line x1="37.70" y1="339.38" x2="40.10" y2="339.38" stroke="#000" stroke-width="1.1" />
<line x1="378.50" y1="339.38" x2="376.10" y2="339.38" stroke="#000" stroke-width="1.1" />
<line x1="37.70" y1="328.18" x2="40.10" y2="328.18" stroke="#000" stroke-width="1.1" />
<line x1="378.50" y1="328.18" x2="376.10" y2="328.18" stroke="#000" stroke-width="1.1" />
<line x1="37.70" y1="318.30" x2="40.10" y2="318.30" stroke="#000" stroke-width="1.1" />
<line x1="378.50" y1="318.30" x2="376.10" y2="318.30" stroke="#000" stroke-width="1.1" />
<line x1="37.70" y1="251.33" x2="40.10" y2="251.33" stroke="#000" stroke-width="1.1" />
<line x1="378.50" y1="251.33" x2="376.10" y2="251.33" stroke="#000" stroke-width="1.1" />
<line x1="37.70" y1="217.32" x2="40.10" y2="217.32" stroke="#000" stroke-width="1.1" />
<line x1="378.50" y1="217.32" x2="376.10" y2="217.32" stroke="#000" stroke-width="1.1" />
<line x1="37.70" y1="193.19" x2="40.10" y2="193.19" stroke="#000" stroke-width="1.1" />
<line x1="378.50" y1="193.19" x2="376.10" y2="193.19" stroke="#000" stroke-width="1.1" />
<line x1="37.70" y1="174.48" x2="40.10" y2="174.48" stroke="#000" stroke-width="1.1" />
<line x1="378.50" y1="174.48" x2="376.10" y2="174.48" stroke="#000" stroke-width="1.1" />
<line x1="37.70" y1="159.19" x2="40.10" y2="159.19" stroke="#000" stroke-width="1.1" />
<line x1="378.50" y1="159.19" x2="376.10" y2="159.19" stroke="#000" stroke-width="1.1" />
<line x1="37.70" y1="146.26" x2="40.10" y2="146.26" stroke="#000" stroke-width="1.1" />
<line x1="378.50" y1="146.26" x2="376.10" y2="146.26" stroke="#000" stroke-width="1.1" />
<line x1="37.70" y1="135.06" x2="40.10" y2="135.06" stroke="#000" stroke-width="1.1" />
<line x1="378.50" y1="135.06" x2="376.10" y2="135.06" stroke="#000" stroke-width="1.1" />
<line x1="37.70" y1="125.18" x2="40.10" y2="125.18" stroke="#000" stroke-width="1.1" />
<line x1="378.50" y1="125.18" x2="376.10" y2="125.18" stroke="#000" stroke-width="1.1" />
<line x1="37.70" y1="58.21" x2="40.10" y2="58.21" stroke="#000" stroke-width="1.1" />
<line x1="378.50" y1="58.21" x2="376.10" y2="58.21" stroke="#000" stroke-width="1.1" />
<text x="32.30" y="28.50" font-size="12.1" text-anchor="end" >3</text>
<text x="32.30" y="120.64" font-size="12.1" text-anchor="end" >1</text>
<text x="32.30" y="313.76" font-size="12.1" text-anchor="end" >0.1</text>
<text x="32.30" y="371.90" font-size="12.1" text-anchor="end" >0.05</text>
<text x="208.50" y="402.80" font-size="12.6" text-anchor="middle" >Temperature (K)</text>
<text transform="translate(10.7 195.9) rotate(-90)" font-size="12.15" text-anchor="middle">Thermal conductivity (W m<tspan font-size="8.5" dy="-4.5">-1</tspan><tspan dy="4.5"> K</tspan><tspan font-size="8.5" dy="-4.5">-1</tspan><tspan dy="4.5">)</tspan></text>
<rect x="32.8" y="412.6" width="346.6" height="108.3" fill="none" stroke="#000" stroke-width="1.2"/>
<circle cx="45.00" cy="421.50" r="3.1" fill="#ff0000" stroke="none" stroke-width="0"/>
<text x="58.70" y="425.50" font-size="12.3" text-anchor="start" >Crystalline-BaZrS<tspan font-size="8.5" dy="3.6">3</tspan></text>
<path d="M45.40 441.00 L49.00 444.60 L45.40 448.20 L41.80 444.60 Z" fill="#0a7d0a" stroke="none" stroke-width="0"/>
<text x="59.70" y="448.40" font-size="12.3" text-anchor="start" >Ba<tspan font-size="8.5" dy="3.6">3</tspan><tspan dy="-3.6">Zr</tspan><tspan font-size="8.5" dy="3.6">2</tspan><tspan dy="-3.6">S</tspan><tspan font-size="8.5" dy="3.6">7</tspan></text>
<line x1="33.20" y1="467.00" x2="56.70" y2="467.00" stroke="#f0198c" stroke-width="1.3" />
<text x="60.20" y="470.80" font-size="12.3" text-anchor="start" >Minimum limit</text>
<circle cx="45.00" cy="487.80" r="2.6" fill="#fff" stroke="#e9b042" stroke-width="1.2"/>
<text x="60.20" y="491.50" font-size="12.3" text-anchor="start" >BaZrS<tspan font-size="8.5" dy="3.6">3</tspan><tspan dy="-3.6"> MLMD</tspan></text>
<line x1="33.80" y1="511.30" x2="54.00" y2="511.30" stroke="#b22ad4" stroke-width="1.5" stroke-dasharray="4.1 4"/>
<text x="60.20" y="515.00" font-size="12.3" text-anchor="start" >Crystalline-BaZrS<tspan font-size="8.5" dy="3.6">3</tspan><tspan dy="-3.6"> three-phonon</tspan></text>
<circle cx="247.70" cy="421.20" r="2.7" fill="#000000" stroke="none" stroke-width="0"/>
<text x="259.30" y="425.20" font-size="12.1" text-anchor="start" >Amorphous-BaZrS<tspan font-size="8.5" dy="3.6">3</tspan></text>
<path d="M247.70 441.87 L251.40 447.64 L244.00 447.64 Z" fill="#0000ff"/>
<text x="262.40" y="448.40" font-size="12.3" text-anchor="start" >Ba<tspan font-size="8.5" dy="3.6">4</tspan><tspan dy="-3.6">Zr</tspan><tspan font-size="8.5" dy="3.6">3</tspan><tspan dy="-3.6">S</tspan><tspan font-size="8.5" dy="3.6">10</tspan></text>
<line x1="236.90" y1="467.60" x2="237.90" y2="467.60" stroke="#808080" stroke-width="1.9" stroke-linecap="round"/>
<line x1="246.30" y1="467.60" x2="247.30" y2="467.60" stroke="#808080" stroke-width="1.9" stroke-linecap="round"/>
<line x1="255.80" y1="467.60" x2="256.80" y2="467.60" stroke="#808080" stroke-width="1.9" stroke-linecap="round"/>
<text x="262.40" y="471.00" font-size="12.3" text-anchor="start" >Diffuson limit</text>
<path d="M247.70 483.80 L251.00 487.10 L247.70 490.40 L244.40 487.10 Z" fill="none" stroke="#2bd39c" stroke-width="1.2"/>
<text x="262.40" y="491.30" font-size="12.0" text-anchor="start" >Ba<tspan font-size="8.5" dy="3.6">3</tspan><tspan dy="-3.6">Zr</tspan><tspan font-size="8.5" dy="3.6">2</tspan><tspan dy="-3.6">S</tspan><tspan font-size="8.5" dy="3.6">7</tspan><tspan dy="-3.6"> MLMD</tspan></text>
<text x="438.60" y="9.90" font-size="12.2" text-anchor="start" font-weight="bold">(b)</text>
<ellipse cx="469.8" cy="126.6" rx="11.7" ry="61.2" fill="none" stroke="#000" stroke-width="1.1"/>
<ellipse cx="669.8" cy="170.2" rx="8.1" ry="27.3" fill="none" stroke="#000" stroke-width="1.1"/>
<line x1="497.40" y1="55.50" x2="478.50" y2="66.80" stroke="#000" stroke-width="1.2" />
<path d="M474.3 69.3 L477.3 63.9 L480.9 69.6 Z" fill="#000"/>
<line x1="651.10" y1="126.40" x2="664.00" y2="140.20" stroke="#000" stroke-width="1.2" />
<path d="M667.2 143.8 L661.6 141.2 L666.3 137.0 Z" fill="#000"/>
<text x="499.50" y="53.00" font-size="12.3" text-anchor="start" >Crystalline</text>
<text x="586.60" y="123.10" font-size="12.4" text-anchor="start" >Amorphous</text>
<line x1="489.80" y1="24.00" x2="489.80" y2="211.00" stroke="#333" stroke-width="1.1" stroke-dasharray="4.6 3.5"/>
<line x1="657.70" y1="24.00" x2="657.70" y2="211.00" stroke="#333" stroke-width="1.1" stroke-dasharray="4.6 3.5"/>
<circle cx="470.00" cy="98.00" r="3.2" fill="#ff0000" stroke="none" stroke-width="0"/>
<circle cx="517.80" cy="87.50" r="3.2" fill="#ff0000" stroke="none" stroke-width="0"/>
<circle cx="559.00" cy="104.40" r="3.2" fill="#ff0000" stroke="none" stroke-width="0"/>
<circle cx="600.40" cy="145.80" r="3.2" fill="#ff0000" stroke="none" stroke-width="0"/>
<circle cx="612.70" cy="163.80" r="3.2" fill="#ff0000" stroke="none" stroke-width="0"/>
<circle cx="619.70" cy="170.90" r="3.2" fill="#ff0000" stroke="none" stroke-width="0"/>
<circle cx="629.00" cy="170.90" r="3.2" fill="#ff0000" stroke="none" stroke-width="0"/>
<circle cx="668.90" cy="172.00" r="3.2" fill="#ff0000" stroke="none" stroke-width="0"/>
<path d="M470.00 164.88 L473.80 170.81 L466.20 170.81 Z" fill="#0000ff"/>
<path d="M517.90 163.58 L521.70 169.51 L514.10 169.51 Z" fill="#0000ff"/>
<path d="M559.30 158.88 L563.10 164.81 L555.50 164.81 Z" fill="#0000ff"/>
<path d="M600.40 168.08 L604.20 174.01 L596.60 174.01 Z" fill="#0000ff"/>
<path d="M612.70 159.98 L616.50 165.91 L608.90 165.91 Z" fill="#0000ff"/>
<path d="M619.70 170.28 L623.50 176.21 L615.90 176.21 Z" fill="#0000ff"/>
<path d="M629.00 170.28 L632.80 176.21 L625.20 176.21 Z" fill="#0000ff"/>
<line x1="470.00" y1="81.40" x2="470.00" y2="114.70" stroke="#ff0000" stroke-width="1.3" />
<line x1="466.60" y1="81.40" x2="473.40" y2="81.40" stroke="#ff0000" stroke-width="1.3" />
<line x1="466.60" y1="114.70" x2="473.40" y2="114.70" stroke="#ff0000" stroke-width="1.3" />
<line x1="517.80" y1="68.90" x2="517.80" y2="106.30" stroke="#ff0000" stroke-width="1.3" />
<line x1="514.40" y1="68.90" x2="521.20" y2="68.90" stroke="#ff0000" stroke-width="1.3" />
<line x1="514.40" y1="106.30" x2="521.20" y2="106.30" stroke="#ff0000" stroke-width="1.3" />
<line x1="559.00" y1="88.50" x2="559.00" y2="120.10" stroke="#ff0000" stroke-width="1.3" />
<line x1="555.60" y1="88.50" x2="562.40" y2="88.50" stroke="#ff0000" stroke-width="1.3" />
<line x1="555.60" y1="120.10" x2="562.40" y2="120.10" stroke="#ff0000" stroke-width="1.3" />
<line x1="600.40" y1="136.30" x2="600.40" y2="155.00" stroke="#ff0000" stroke-width="1.3" />
<line x1="597.00" y1="136.30" x2="603.80" y2="136.30" stroke="#ff0000" stroke-width="1.3" />
<line x1="597.00" y1="155.00" x2="603.80" y2="155.00" stroke="#ff0000" stroke-width="1.3" />
<line x1="612.70" y1="153.90" x2="612.70" y2="173.10" stroke="#ff0000" stroke-width="1.3" />
<line x1="609.30" y1="153.90" x2="616.10" y2="153.90" stroke="#ff0000" stroke-width="1.3" />
<line x1="609.30" y1="173.10" x2="616.10" y2="173.10" stroke="#ff0000" stroke-width="1.3" />
<line x1="619.70" y1="165.60" x2="619.70" y2="175.90" stroke="#ff0000" stroke-width="1.3" />
<line x1="616.30" y1="165.60" x2="623.10" y2="165.60" stroke="#ff0000" stroke-width="1.3" />
<line x1="616.30" y1="175.90" x2="623.10" y2="175.90" stroke="#ff0000" stroke-width="1.3" />
<line x1="629.00" y1="165.60" x2="629.00" y2="175.90" stroke="#ff0000" stroke-width="1.3" />
<line x1="625.60" y1="165.60" x2="632.40" y2="165.60" stroke="#ff0000" stroke-width="1.3" />
<line x1="625.60" y1="175.90" x2="632.40" y2="175.90" stroke="#ff0000" stroke-width="1.3" />
<line x1="668.90" y1="167.00" x2="668.90" y2="176.40" stroke="#ff0000" stroke-width="1.3" />
<line x1="665.50" y1="167.00" x2="672.30" y2="167.00" stroke="#ff0000" stroke-width="1.3" />
<line x1="665.50" y1="176.40" x2="672.30" y2="176.40" stroke="#ff0000" stroke-width="1.3" />
<line x1="470.00" y1="162.40" x2="470.00" y2="175.20" stroke="#0000ff" stroke-width="1.3" />
<line x1="466.60" y1="162.40" x2="473.40" y2="162.40" stroke="#0000ff" stroke-width="1.3" />
<line x1="466.60" y1="175.20" x2="473.40" y2="175.20" stroke="#0000ff" stroke-width="1.3" />
<line x1="517.90" y1="157.70" x2="517.90" y2="176.50" stroke="#0000ff" stroke-width="1.3" />
<line x1="514.50" y1="157.70" x2="521.30" y2="157.70" stroke="#0000ff" stroke-width="1.3" />
<line x1="514.50" y1="176.50" x2="521.30" y2="176.50" stroke="#0000ff" stroke-width="1.3" />
<line x1="559.30" y1="152.40" x2="559.30" y2="172.80" stroke="#0000ff" stroke-width="1.3" />
<line x1="555.90" y1="152.40" x2="562.70" y2="152.40" stroke="#0000ff" stroke-width="1.3" />
<line x1="555.90" y1="172.80" x2="562.70" y2="172.80" stroke="#0000ff" stroke-width="1.3" />
<line x1="600.40" y1="165.40" x2="600.40" y2="179.70" stroke="#0000ff" stroke-width="1.3" />
<line x1="597.00" y1="165.40" x2="603.80" y2="165.40" stroke="#0000ff" stroke-width="1.3" />
<line x1="597.00" y1="179.70" x2="603.80" y2="179.70" stroke="#0000ff" stroke-width="1.3" />
<line x1="612.70" y1="156.80" x2="612.70" y2="172.60" stroke="#0000ff" stroke-width="1.3" />
<line x1="609.30" y1="156.80" x2="616.10" y2="156.80" stroke="#0000ff" stroke-width="1.3" />
<line x1="609.30" y1="172.60" x2="616.10" y2="172.60" stroke="#0000ff" stroke-width="1.3" />
<line x1="619.70" y1="168.90" x2="619.70" y2="181.90" stroke="#0000ff" stroke-width="1.3" />
<line x1="616.30" y1="168.90" x2="623.10" y2="168.90" stroke="#0000ff" stroke-width="1.3" />
<line x1="616.30" y1="181.90" x2="623.10" y2="181.90" stroke="#0000ff" stroke-width="1.3" />
<line x1="629.00" y1="168.90" x2="629.00" y2="180.70" stroke="#0000ff" stroke-width="1.3" />
<line x1="625.60" y1="168.90" x2="632.40" y2="168.90" stroke="#0000ff" stroke-width="1.3" />
<line x1="625.60" y1="180.70" x2="632.40" y2="180.70" stroke="#0000ff" stroke-width="1.3" />
<line x1="451.70" y1="24.00" x2="451.70" y2="211.00" stroke="#000" stroke-width="1.2" />
<line x1="684.00" y1="24.00" x2="684.00" y2="211.00" stroke="#000" stroke-width="1.2" />
<line x1="451.10" y1="24.00" x2="495.80" y2="24.00" stroke="#000" stroke-width="1.2" />
<line x1="500.60" y1="24.00" x2="648.00" y2="24.00" stroke="#000" stroke-width="1.2" />
<line x1="652.60" y1="24.00" x2="684.60" y2="24.00" stroke="#000" stroke-width="1.2" />
<line x1="494.20" y1="28.30" x2="498.40" y2="19.70" stroke="#000" stroke-width="1.1" />
<line x1="498.40" y1="28.30" x2="502.60" y2="19.70" stroke="#000" stroke-width="1.1" />
<line x1="646.20" y1="28.30" x2="650.40" y2="19.70" stroke="#000" stroke-width="1.1" />
<line x1="650.40" y1="28.30" x2="654.60" y2="19.70" stroke="#000" stroke-width="1.1" />
<line x1="451.10" y1="211.00" x2="495.80" y2="211.00" stroke="#000" stroke-width="1.2" />
<line x1="500.60" y1="211.00" x2="648.00" y2="211.00" stroke="#000" stroke-width="1.2" />
<line x1="652.60" y1="211.00" x2="684.60" y2="211.00" stroke="#000" stroke-width="1.2" />
<line x1="494.20" y1="215.30" x2="498.40" y2="206.70" stroke="#000" stroke-width="1.1" />
<line x1="498.40" y1="215.30" x2="502.60" y2="206.70" stroke="#000" stroke-width="1.1" />
<line x1="646.20" y1="215.30" x2="650.40" y2="206.70" stroke="#000" stroke-width="1.1" />
<line x1="650.40" y1="215.30" x2="654.60" y2="206.70" stroke="#000" stroke-width="1.1" />
<line x1="451.70" y1="192.30" x2="454.10" y2="192.30" stroke="#000" stroke-width="1.1" />
<line x1="684.00" y1="192.30" x2="681.60" y2="192.30" stroke="#000" stroke-width="1.1" />
<line x1="451.70" y1="173.60" x2="456.30" y2="173.60" stroke="#000" stroke-width="1.1" />
<line x1="684.00" y1="173.60" x2="679.40" y2="173.60" stroke="#000" stroke-width="1.1" />
<line x1="451.70" y1="154.90" x2="454.10" y2="154.90" stroke="#000" stroke-width="1.1" />
<line x1="684.00" y1="154.90" x2="681.60" y2="154.90" stroke="#000" stroke-width="1.1" />
<line x1="451.70" y1="136.20" x2="456.30" y2="136.20" stroke="#000" stroke-width="1.1" />
<line x1="684.00" y1="136.20" x2="679.40" y2="136.20" stroke="#000" stroke-width="1.1" />
<line x1="451.70" y1="117.50" x2="454.10" y2="117.50" stroke="#000" stroke-width="1.1" />
<line x1="684.00" y1="117.50" x2="681.60" y2="117.50" stroke="#000" stroke-width="1.1" />
<line x1="451.70" y1="98.80" x2="456.30" y2="98.80" stroke="#000" stroke-width="1.1" />
<line x1="684.00" y1="98.80" x2="679.40" y2="98.80" stroke="#000" stroke-width="1.1" />
<line x1="451.70" y1="80.10" x2="454.10" y2="80.10" stroke="#000" stroke-width="1.1" />
<line x1="684.00" y1="80.10" x2="681.60" y2="80.10" stroke="#000" stroke-width="1.1" />
<line x1="451.70" y1="61.40" x2="456.30" y2="61.40" stroke="#000" stroke-width="1.1" />
<line x1="684.00" y1="61.40" x2="679.40" y2="61.40" stroke="#000" stroke-width="1.1" />
<line x1="451.70" y1="42.70" x2="454.10" y2="42.70" stroke="#000" stroke-width="1.1" />
<line x1="684.00" y1="42.70" x2="681.60" y2="42.70" stroke="#000" stroke-width="1.1" />
<text x="446.50" y="215.30" font-size="12.1" text-anchor="end" >0.0</text>
<text x="446.50" y="177.90" font-size="12.1" text-anchor="end" >0.4</text>
<text x="446.50" y="140.50" font-size="12.1" text-anchor="end" >0.8</text>
<text x="446.50" y="103.10" font-size="12.1" text-anchor="end" >1.2</text>
<text x="446.50" y="65.70" font-size="12.1" text-anchor="end" >1.6</text>
<text x="446.50" y="28.30" font-size="12.1" text-anchor="end" >2.0</text>
<line x1="509.40" y1="211.00" x2="509.40" y2="206.60" stroke="#000" stroke-width="1.0" />
<line x1="509.40" y1="24.00" x2="509.40" y2="28.40" stroke="#000" stroke-width="1.0" />
<line x1="521.80" y1="211.00" x2="521.80" y2="206.60" stroke="#000" stroke-width="1.0" />
<line x1="521.80" y1="24.00" x2="521.80" y2="28.40" stroke="#000" stroke-width="1.0" />
<line x1="529.06" y1="211.00" x2="529.06" y2="206.60" stroke="#000" stroke-width="1.0" />
<line x1="529.06" y1="24.00" x2="529.06" y2="28.40" stroke="#000" stroke-width="1.0" />
<line x1="534.20" y1="211.00" x2="534.20" y2="206.60" stroke="#000" stroke-width="1.0" />
<line x1="534.20" y1="24.00" x2="534.20" y2="28.40" stroke="#000" stroke-width="1.0" />
<line x1="538.20" y1="211.00" x2="538.20" y2="206.60" stroke="#000" stroke-width="1.0" />
<line x1="538.20" y1="24.00" x2="538.20" y2="28.40" stroke="#000" stroke-width="1.0" />
<line x1="541.46" y1="211.00" x2="541.46" y2="206.60" stroke="#000" stroke-width="1.0" />
<line x1="541.46" y1="24.00" x2="541.46" y2="28.40" stroke="#000" stroke-width="1.0" />
<line x1="544.22" y1="211.00" x2="544.22" y2="206.60" stroke="#000" stroke-width="1.0" />
<line x1="544.22" y1="24.00" x2="544.22" y2="28.40" stroke="#000" stroke-width="1.0" />
<line x1="546.61" y1="211.00" x2="546.61" y2="206.60" stroke="#000" stroke-width="1.0" />
<line x1="546.61" y1="24.00" x2="546.61" y2="28.40" stroke="#000" stroke-width="1.0" />
<line x1="548.71" y1="211.00" x2="548.71" y2="206.60" stroke="#000" stroke-width="1.0" />
<line x1="548.71" y1="24.00" x2="548.71" y2="28.40" stroke="#000" stroke-width="1.0" />
<line x1="550.60" y1="211.00" x2="550.60" y2="206.60" stroke="#000" stroke-width="1.0" />
<line x1="550.60" y1="24.00" x2="550.60" y2="28.40" stroke="#000" stroke-width="1.0" />
<line x1="563.00" y1="211.00" x2="563.00" y2="206.60" stroke="#000" stroke-width="1.0" />
<line x1="563.00" y1="24.00" x2="563.00" y2="28.40" stroke="#000" stroke-width="1.0" />
<line x1="570.26" y1="211.00" x2="570.26" y2="206.60" stroke="#000" stroke-width="1.0" />
<line x1="570.26" y1="24.00" x2="570.26" y2="28.40" stroke="#000" stroke-width="1.0" />
<line x1="575.40" y1="211.00" x2="575.40" y2="206.60" stroke="#000" stroke-width="1.0" />
<line x1="575.40" y1="24.00" x2="575.40" y2="28.40" stroke="#000" stroke-width="1.0" />
<line x1="579.40" y1="211.00" x2="579.40" y2="206.60" stroke="#000" stroke-width="1.0" />
<line x1="579.40" y1="24.00" x2="579.40" y2="28.40" stroke="#000" stroke-width="1.0" />
<line x1="582.66" y1="211.00" x2="582.66" y2="206.60" stroke="#000" stroke-width="1.0" />
<line x1="582.66" y1="24.00" x2="582.66" y2="28.40" stroke="#000" stroke-width="1.0" />
<line x1="585.42" y1="211.00" x2="585.42" y2="206.60" stroke="#000" stroke-width="1.0" />
<line x1="585.42" y1="24.00" x2="585.42" y2="28.40" stroke="#000" stroke-width="1.0" />
<line x1="587.81" y1="211.00" x2="587.81" y2="206.60" stroke="#000" stroke-width="1.0" />
<line x1="587.81" y1="24.00" x2="587.81" y2="28.40" stroke="#000" stroke-width="1.0" />
<line x1="589.91" y1="211.00" x2="589.91" y2="206.60" stroke="#000" stroke-width="1.0" />
<line x1="589.91" y1="24.00" x2="589.91" y2="28.40" stroke="#000" stroke-width="1.0" />
<line x1="591.80" y1="211.00" x2="591.80" y2="206.60" stroke="#000" stroke-width="1.0" />
<line x1="591.80" y1="24.00" x2="591.80" y2="28.40" stroke="#000" stroke-width="1.0" />
<line x1="604.20" y1="211.00" x2="604.20" y2="206.60" stroke="#000" stroke-width="1.0" />
<line x1="604.20" y1="24.00" x2="604.20" y2="28.40" stroke="#000" stroke-width="1.0" />
<line x1="611.46" y1="211.00" x2="611.46" y2="206.60" stroke="#000" stroke-width="1.0" />
<line x1="611.46" y1="24.00" x2="611.46" y2="28.40" stroke="#000" stroke-width="1.0" />
<line x1="616.60" y1="211.00" x2="616.60" y2="206.60" stroke="#000" stroke-width="1.0" />
<line x1="616.60" y1="24.00" x2="616.60" y2="28.40" stroke="#000" stroke-width="1.0" />
<line x1="620.60" y1="211.00" x2="620.60" y2="206.60" stroke="#000" stroke-width="1.0" />
<line x1="620.60" y1="24.00" x2="620.60" y2="28.40" stroke="#000" stroke-width="1.0" />
<line x1="623.86" y1="211.00" x2="623.86" y2="206.60" stroke="#000" stroke-width="1.0" />
<line x1="623.86" y1="24.00" x2="623.86" y2="28.40" stroke="#000" stroke-width="1.0" />
<line x1="626.62" y1="211.00" x2="626.62" y2="206.60" stroke="#000" stroke-width="1.0" />
<line x1="626.62" y1="24.00" x2="626.62" y2="28.40" stroke="#000" stroke-width="1.0" />
<line x1="629.01" y1="211.00" x2="629.01" y2="206.60" stroke="#000" stroke-width="1.0" />
<line x1="629.01" y1="24.00" x2="629.01" y2="28.40" stroke="#000" stroke-width="1.0" />
<line x1="631.11" y1="211.00" x2="631.11" y2="206.60" stroke="#000" stroke-width="1.0" />
<line x1="631.11" y1="24.00" x2="631.11" y2="28.40" stroke="#000" stroke-width="1.0" />
<line x1="633.00" y1="211.00" x2="633.00" y2="206.50" stroke="#000" stroke-width="1.0" />
<line x1="633.00" y1="24.00" x2="633.00" y2="28.50" stroke="#000" stroke-width="1.0" />
<text x="509.40" y="226.30" font-size="12.1" text-anchor="middle" >0.01</text>
<text x="550.60" y="226.30" font-size="12.1" text-anchor="middle" >0.1</text>
<text x="591.80" y="226.30" font-size="12.1" text-anchor="middle" >1</text>
<text x="633.00" y="226.30" font-size="12.1" text-anchor="middle" >10</text>
<text x="483.30" y="247.70" font-size="12.35" text-anchor="start" >Irradiation dose (10<tspan font-size="8.5" dy="-4.5">13</tspan><tspan dy="4.5"> ions/cm</tspan><tspan font-size="8.5" dy="-4.5">2</tspan><tspan dy="4.5">)</tspan></text>
<text transform="translate(424.6 117.4) rotate(-90)" font-size="12.3" text-anchor="middle">Thermal conductivity (W m<tspan font-size="8.5" dy="-4.5">-1</tspan><tspan dy="4.5"> K</tspan><tspan font-size="8.5" dy="-4.5">-1</tspan><tspan dy="4.5">)</tspan></text>
<rect x="569.2" y="39.8" width="80.3" height="36.6" fill="#fff" stroke="#000" stroke-width="1.2"/>
<circle cx="580.40" cy="49.30" r="3.3" fill="#ff0000" stroke="none" stroke-width="0"/>
<text x="594.60" y="52.40" font-size="12.3" text-anchor="start" >BaZrS<tspan font-size="8.5" dy="3.6">3</tspan></text>
<path d="M580.40 62.80 L584.40 69.04 L576.40 69.04 Z" fill="#0000ff"/>
<text x="594.60" y="69.20" font-size="12.3" text-anchor="start" >Ba<tspan font-size="8.5" dy="3.6">4</tspan><tspan dy="-3.6">Zr</tspan><tspan font-size="8.5" dy="3.6">3</tspan><tspan dy="-3.6">S</tspan><tspan font-size="8.5" dy="3.6">10</tspan></text>
<text x="441.20" y="300.90" font-size="12.2" text-anchor="start" font-weight="bold">(c)</text>
<rect x="451.4" y="316.4" width="232.6" height="204.5" fill="none" stroke="#000" stroke-width="1.2"/>
<text x="489.90" y="336.10" font-size="12.3" text-anchor="start" >Ba<tspan font-size="8.5" dy="3.6">3</tspan><tspan dy="-3.6">Zr</tspan><tspan font-size="8.5" dy="3.6">2</tspan><tspan dy="-3.6">S</tspan><tspan font-size="8.5" dy="3.6">7</tspan></text>
<text x="590.2" y="377.7" font-size="12.8" font-family="Liberation Serif" font-style="italic">k</text>
<line x1="598.60" y1="374.00" x2="598.60" y2="379.40" stroke="#1a1a1a" stroke-width="0.9" />
<line x1="596.20" y1="379.40" x2="601.00" y2="379.40" stroke="#1a1a1a" stroke-width="0.9" />
<text x="603.40" y="377.30" font-size="12.7" text-anchor="start" >= 0.45 ± 0.07</text>
<text x="608.40" y="395.30" font-size="12.3" text-anchor="start" >W m<tspan font-size="8.5" dy="-4.5">-1</tspan><tspan dy="4.5"> K</tspan><tspan font-size="8.5" dy="-4.5">-1</tspan></text>
<text x="561.1" y="475.5" font-size="12.8" font-family="Liberation Serif" font-style="italic">k</text>
<line x1="568.30" y1="471.80" x2="568.30" y2="479.70" stroke="#1a1a1a" stroke-width="0.9" />
<line x1="570.50" y1="471.80" x2="570.50" y2="479.70" stroke="#1a1a1a" stroke-width="0.9" />
<text x="573.30" y="475.20" font-size="12.75" text-anchor="start" >= 1.06 ± 0.14</text>
<text x="578.70" y="493.80" font-size="12.3" text-anchor="start" >W m<tspan font-size="8.5" dy="-4.5">-1</tspan><tspan dy="4.5"> K</tspan><tspan font-size="8.5" dy="-4.5">-1</tspan></text>
<line x1="491.80" y1="391.30" x2="491.80" y2="452.30" stroke="#8a8a8a" stroke-width="0.9" />
<line x1="514.80" y1="391.30" x2="514.80" y2="452.30" stroke="#8a8a8a" stroke-width="0.9" />
<line x1="538.00" y1="391.30" x2="538.00" y2="452.30" stroke="#8a8a8a" stroke-width="0.9" />
<line x1="491.80" y1="371.40" x2="538.00" y2="371.40" stroke="#666" stroke-width="0.9" />
<line x1="491.80" y1="472.50" x2="538.00" y2="472.50" stroke="#666" stroke-width="0.9" />
<path d="M491.8 351.5 L503.3 361.6 L491.8 371.7 L480.3 361.6 Z" fill="rgba(120,195,198,0.62)"/>
<path d="M491.8 351.5 L491.8 371.7 M480.3 361.6 L503.3 361.6" stroke="rgba(225,225,90,0.45)" stroke-width="0.7" fill="none"/>
<path d="M514.8 351.5 L526.3 361.6 L514.8 371.7 L503.3 361.6 Z" fill="rgba(70,165,170,0.8)"/>
<path d="M514.8 351.5 L514.8 371.7 M503.3 361.6 L526.3 361.6" stroke="rgba(225,225,90,0.45)" stroke-width="0.7" fill="none"/>
<path d="M538.0 351.5 L549.5 361.6 L538.0 371.7 L526.5 361.6 Z" fill="rgba(120,195,198,0.62)"/>
<path d="M538.0 351.5 L538.0 371.7 M526.5 361.6 L549.5 361.6" stroke="rgba(225,225,90,0.45)" stroke-width="0.7" fill="none"/>
<path d="M491.8 371.1 L503.3 381.2 L491.8 391.3 L480.3 381.2 Z" fill="rgba(120,195,198,0.62)"/>
<path d="M491.8 371.1 L491.8 391.3 M480.3 381.2 L503.3 381.2" stroke="rgba(225,225,90,0.45)" stroke-width="0.7" fill="none"/>
<path d="M514.8 371.1 L526.3 381.2 L514.8 391.3 L503.3 381.2 Z" fill="rgba(70,165,170,0.8)"/>
<path d="M514.8 371.1 L514.8 391.3 M503.3 381.2 L526.3 381.2" stroke="rgba(225,225,90,0.45)" stroke-width="0.7" fill="none"/>
<path d="M538.0 371.1 L549.5 381.2 L538.0 391.3 L526.5 381.2 Z" fill="rgba(120,195,198,0.62)"/>
<path d="M538.0 371.1 L538.0 391.3 M526.5 381.2 L549.5 381.2" stroke="rgba(225,225,90,0.45)" stroke-width="0.7" fill="none"/>
<path d="M503.4 402.3 L514.9 412.2 L503.4 422.1 L491.9 412.2 Z" fill="rgba(90,175,178,0.72)"/>
<path d="M503.4 402.3 L503.4 422.1 M491.9 412.2 L514.9 412.2" stroke="rgba(225,225,90,0.45)" stroke-width="0.7" fill="none"/>
<path d="M526.6 402.3 L538.1 412.2 L526.6 422.1 L515.1 412.2 Z" fill="rgba(90,175,178,0.72)"/>
<path d="M526.6 402.3 L526.6 422.1 M515.1 412.2 L538.1 412.2" stroke="rgba(225,225,90,0.45)" stroke-width="0.7" fill="none"/>
<path d="M503.4 421.7 L514.9 431.6 L503.4 441.5 L491.9 431.6 Z" fill="rgba(90,175,178,0.72)"/>
<path d="M503.4 421.7 L503.4 441.5 M491.9 431.6 L514.9 431.6" stroke="rgba(225,225,90,0.45)" stroke-width="0.7" fill="none"/>
<path d="M526.6 421.7 L538.1 431.6 L526.6 441.5 L515.1 431.6 Z" fill="rgba(90,175,178,0.72)"/>
<path d="M526.6 421.7 L526.6 441.5 M515.1 431.6 L538.1 431.6" stroke="rgba(225,225,90,0.45)" stroke-width="0.7" fill="none"/>
<path d="M491.8 452.3 L503.3 462.4 L491.8 472.5 L480.3 462.4 Z" fill="rgba(120,195,198,0.62)"/>
<path d="M491.8 452.3 L491.8 472.5 M480.3 462.4 L503.3 462.4" stroke="rgba(225,225,90,0.45)" stroke-width="0.7" fill="none"/>
<path d="M514.8 452.3 L526.3 462.4 L514.8 472.5 L503.3 462.4 Z" fill="rgba(70,165,170,0.8)"/>
<path d="M514.8 452.3 L514.8 472.5 M503.3 462.4 L526.3 462.4" stroke="rgba(225,225,90,0.45)" stroke-width="0.7" fill="none"/>
<path d="M538.0 452.3 L549.5 462.4 L538.0 472.5 L526.5 462.4 Z" fill="rgba(120,195,198,0.62)"/>
<path d="M538.0 452.3 L538.0 472.5 M526.5 462.4 L549.5 462.4" stroke="rgba(225,225,90,0.45)" stroke-width="0.7" fill="none"/>
<circle cx="491.8" cy="361.6" r="2.3" fill="rgba(150,170,170,0.5)" stroke="#8a9a9a" stroke-width="0.8"/>
<circle cx="514.8" cy="361.6" r="2.3" fill="rgba(150,170,170,0.5)" stroke="#8a9a9a" stroke-width="0.8"/>
<circle cx="538.0" cy="361.6" r="2.3" fill="rgba(150,170,170,0.5)" stroke="#8a9a9a" stroke-width="0.8"/>
<circle cx="491.8" cy="381.2" r="2.3" fill="rgba(150,170,170,0.5)" stroke="#8a9a9a" stroke-width="0.8"/>
<circle cx="514.8" cy="381.2" r="2.3" fill="rgba(150,170,170,0.5)" stroke="#8a9a9a" stroke-width="0.8"/>
<circle cx="538.0" cy="381.2" r="2.3" fill="rgba(150,170,170,0.5)" stroke="#8a9a9a" stroke-width="0.8"/>
<circle cx="491.8" cy="462.4" r="2.3" fill="rgba(150,170,170,0.5)" stroke="#8a9a9a" stroke-width="0.8"/>
<circle cx="514.8" cy="462.4" r="2.3" fill="rgba(150,170,170,0.5)" stroke="#8a9a9a" stroke-width="0.8"/>
<circle cx="538.0" cy="462.4" r="2.3" fill="rgba(150,170,170,0.5)" stroke="#8a9a9a" stroke-width="0.8"/>
<circle cx="503.4" cy="412.2" r="2.3" fill="rgba(150,170,170,0.5)" stroke="#8a9a9a" stroke-width="0.8"/>
<circle cx="526.6" cy="412.2" r="2.3" fill="rgba(150,170,170,0.5)" stroke="#8a9a9a" stroke-width="0.8"/>
<circle cx="503.4" cy="431.6" r="2.3" fill="rgba(150,170,170,0.5)" stroke="#8a9a9a" stroke-width="0.8"/>
<circle cx="526.6" cy="431.6" r="2.3" fill="rgba(150,170,170,0.5)" stroke="#8a9a9a" stroke-width="0.8"/>
<ellipse cx="503.4" cy="371.4" rx="4.0" ry="3.3" fill="url(#gg)"/>
<ellipse cx="503.4" cy="389.3" rx="4.0" ry="3.3" fill="url(#gg)"/>
<ellipse cx="503.4" cy="454.0" rx="4.0" ry="3.3" fill="url(#gg)"/>
<ellipse cx="503.4" cy="472.5" rx="4.0" ry="3.3" fill="url(#gg)"/>
<ellipse cx="526.6" cy="371.4" rx="4.0" ry="3.3" fill="url(#gg)"/>
<ellipse cx="526.6" cy="389.3" rx="4.0" ry="3.3" fill="url(#gg)"/>
<ellipse cx="526.6" cy="454.0" rx="4.0" ry="3.3" fill="url(#gg)"/>
<ellipse cx="526.6" cy="472.5" rx="4.0" ry="3.3" fill="url(#gg)"/>
<ellipse cx="491.8" cy="403.3" rx="4.0" ry="3.3" fill="url(#gg)"/>
<ellipse cx="491.8" cy="421.8" rx="4.0" ry="3.3" fill="url(#gg)"/>
<ellipse cx="491.8" cy="440.6" rx="4.0" ry="3.3" fill="url(#gg)"/>
<ellipse cx="514.8" cy="403.3" rx="4.0" ry="3.3" fill="url(#gg)"/>
<ellipse cx="514.8" cy="421.8" rx="4.0" ry="3.3" fill="url(#gg)"/>
<ellipse cx="514.8" cy="440.6" rx="4.0" ry="3.3" fill="url(#gg)"/>
<ellipse cx="538.0" cy="403.3" rx="4.0" ry="3.3" fill="url(#gg)"/>
<ellipse cx="538.0" cy="421.8" rx="4.0" ry="3.3" fill="url(#gg)"/>
<ellipse cx="538.0" cy="440.6" rx="4.0" ry="3.3" fill="url(#gg)"/>
<circle cx="491.8" cy="351.0" r="1.75" fill="url(#gy)" stroke="#b8a800" stroke-width="0.4"/>
<circle cx="491.8" cy="371.4" r="1.75" fill="url(#gy)" stroke="#b8a800" stroke-width="0.4"/>
<circle cx="491.8" cy="391.3" r="1.75" fill="url(#gy)" stroke="#b8a800" stroke-width="0.4"/>
<circle cx="491.8" cy="363.3" r="1.75" fill="url(#gy)" stroke="#b8a800" stroke-width="0.4"/>
<circle cx="491.8" cy="382.8" r="1.75" fill="url(#gy)" stroke="#b8a800" stroke-width="0.4"/>
<circle cx="491.8" cy="452.3" r="1.75" fill="url(#gy)" stroke="#b8a800" stroke-width="0.4"/>
<circle cx="491.8" cy="464.0" r="1.75" fill="url(#gy)" stroke="#b8a800" stroke-width="0.4"/>
<circle cx="491.8" cy="481.1" r="1.75" fill="url(#gy)" stroke="#b8a800" stroke-width="0.4"/>
<circle cx="514.8" cy="351.0" r="1.75" fill="url(#gy)" stroke="#b8a800" stroke-width="0.4"/>
<circle cx="514.8" cy="371.4" r="1.75" fill="url(#gy)" stroke="#b8a800" stroke-width="0.4"/>
<circle cx="514.8" cy="391.3" r="1.75" fill="url(#gy)" stroke="#b8a800" stroke-width="0.4"/>
<circle cx="514.8" cy="363.3" r="1.75" fill="url(#gy)" stroke="#b8a800" stroke-width="0.4"/>
<circle cx="514.8" cy="382.8" r="1.75" fill="url(#gy)" stroke="#b8a800" stroke-width="0.4"/>
<circle cx="514.8" cy="452.3" r="1.75" fill="url(#gy)" stroke="#b8a800" stroke-width="0.4"/>
<circle cx="514.8" cy="464.0" r="1.75" fill="url(#gy)" stroke="#b8a800" stroke-width="0.4"/>
<circle cx="514.8" cy="481.1" r="1.75" fill="url(#gy)" stroke="#b8a800" stroke-width="0.4"/>
<circle cx="538.0" cy="351.0" r="1.75" fill="url(#gy)" stroke="#b8a800" stroke-width="0.4"/>
<circle cx="538.0" cy="371.4" r="1.75" fill="url(#gy)" stroke="#b8a800" stroke-width="0.4"/>
<circle cx="538.0" cy="391.3" r="1.75" fill="url(#gy)" stroke="#b8a800" stroke-width="0.4"/>
<circle cx="538.0" cy="363.3" r="1.75" fill="url(#gy)" stroke="#b8a800" stroke-width="0.4"/>
<circle cx="538.0" cy="382.8" r="1.75" fill="url(#gy)" stroke="#b8a800" stroke-width="0.4"/>
<circle cx="538.0" cy="452.3" r="1.75" fill="url(#gy)" stroke="#b8a800" stroke-width="0.4"/>
<circle cx="538.0" cy="464.0" r="1.75" fill="url(#gy)" stroke="#b8a800" stroke-width="0.4"/>
<circle cx="538.0" cy="481.1" r="1.75" fill="url(#gy)" stroke="#b8a800" stroke-width="0.4"/>
<circle cx="480.4" cy="361.6" r="1.75" fill="url(#gy)" stroke="#b8a800" stroke-width="0.4"/>
<circle cx="480.4" cy="381.2" r="1.75" fill="url(#gy)" stroke="#b8a800" stroke-width="0.4"/>
<circle cx="480.4" cy="462.4" r="1.75" fill="url(#gy)" stroke="#b8a800" stroke-width="0.4"/>
<circle cx="503.4" cy="361.6" r="1.75" fill="url(#gy)" stroke="#b8a800" stroke-width="0.4"/>
<circle cx="503.4" cy="381.2" r="1.75" fill="url(#gy)" stroke="#b8a800" stroke-width="0.4"/>
<circle cx="503.4" cy="462.4" r="1.75" fill="url(#gy)" stroke="#b8a800" stroke-width="0.4"/>
<circle cx="526.6" cy="361.6" r="1.75" fill="url(#gy)" stroke="#b8a800" stroke-width="0.4"/>
<circle cx="526.6" cy="381.2" r="1.75" fill="url(#gy)" stroke="#b8a800" stroke-width="0.4"/>
<circle cx="526.6" cy="462.4" r="1.75" fill="url(#gy)" stroke="#b8a800" stroke-width="0.4"/>
<circle cx="549.7" cy="361.6" r="1.75" fill="url(#gy)" stroke="#b8a800" stroke-width="0.4"/>
<circle cx="549.7" cy="381.2" r="1.75" fill="url(#gy)" stroke="#b8a800" stroke-width="0.4"/>
<circle cx="549.7" cy="462.4" r="1.75" fill="url(#gy)" stroke="#b8a800" stroke-width="0.4"/>
<circle cx="503.4" cy="482.3" r="1.75" fill="url(#gy)" stroke="#b8a800" stroke-width="0.4"/>
<circle cx="503.4" cy="412.2" r="1.75" fill="url(#gy)" stroke="#b8a800" stroke-width="0.4"/>
<circle cx="503.4" cy="431.6" r="1.75" fill="url(#gy)" stroke="#b8a800" stroke-width="0.4"/>
<circle cx="501.6" cy="401.7" r="1.75" fill="url(#gy)" stroke="#b8a800" stroke-width="0.4"/>
<circle cx="505.2" cy="401.7" r="1.75" fill="url(#gy)" stroke="#b8a800" stroke-width="0.4"/>
<circle cx="501.6" cy="421.8" r="1.75" fill="url(#gy)" stroke="#b8a800" stroke-width="0.4"/>
<circle cx="505.2" cy="421.8" r="1.75" fill="url(#gy)" stroke="#b8a800" stroke-width="0.4"/>
<circle cx="501.6" cy="441.4" r="1.75" fill="url(#gy)" stroke="#b8a800" stroke-width="0.4"/>
<circle cx="505.2" cy="441.4" r="1.75" fill="url(#gy)" stroke="#b8a800" stroke-width="0.4"/>
<circle cx="526.6" cy="482.3" r="1.75" fill="url(#gy)" stroke="#b8a800" stroke-width="0.4"/>
<circle cx="526.6" cy="412.2" r="1.75" fill="url(#gy)" stroke="#b8a800" stroke-width="0.4"/>
<circle cx="526.6" cy="431.6" r="1.75" fill="url(#gy)" stroke="#b8a800" stroke-width="0.4"/>
<circle cx="524.8" cy="401.7" r="1.75" fill="url(#gy)" stroke="#b8a800" stroke-width="0.4"/>
<circle cx="528.4" cy="401.7" r="1.75" fill="url(#gy)" stroke="#b8a800" stroke-width="0.4"/>
<circle cx="524.8" cy="421.8" r="1.75" fill="url(#gy)" stroke="#b8a800" stroke-width="0.4"/>
<circle cx="528.4" cy="421.8" r="1.75" fill="url(#gy)" stroke="#b8a800" stroke-width="0.4"/>
<circle cx="524.8" cy="441.4" r="1.75" fill="url(#gy)" stroke="#b8a800" stroke-width="0.4"/>
<circle cx="528.4" cy="441.4" r="1.75" fill="url(#gy)" stroke="#b8a800" stroke-width="0.4"/>
<circle cx="491.8" cy="410.7" r="1.75" fill="url(#gy)" stroke="#b8a800" stroke-width="0.4"/>
<circle cx="491.8" cy="413.7" r="1.75" fill="url(#gy)" stroke="#b8a800" stroke-width="0.4"/>
<circle cx="491.8" cy="430.1" r="1.75" fill="url(#gy)" stroke="#b8a800" stroke-width="0.4"/>
<circle cx="491.8" cy="433.1" r="1.75" fill="url(#gy)" stroke="#b8a800" stroke-width="0.4"/>
<circle cx="514.8" cy="410.7" r="1.75" fill="url(#gy)" stroke="#b8a800" stroke-width="0.4"/>
<circle cx="514.8" cy="413.7" r="1.75" fill="url(#gy)" stroke="#b8a800" stroke-width="0.4"/>
<circle cx="514.8" cy="430.1" r="1.75" fill="url(#gy)" stroke="#b8a800" stroke-width="0.4"/>
<circle cx="514.8" cy="433.1" r="1.75" fill="url(#gy)" stroke="#b8a800" stroke-width="0.4"/>
<circle cx="538.0" cy="410.7" r="1.75" fill="url(#gy)" stroke="#b8a800" stroke-width="0.4"/>
<circle cx="538.0" cy="413.7" r="1.75" fill="url(#gy)" stroke="#b8a800" stroke-width="0.4"/>
<circle cx="538.0" cy="430.1" r="1.75" fill="url(#gy)" stroke="#b8a800" stroke-width="0.4"/>
<circle cx="538.0" cy="433.1" r="1.75" fill="url(#gy)" stroke="#b8a800" stroke-width="0.4"/>
<circle cx="481.7" cy="401.7" r="1.75" fill="url(#gy)" stroke="#b8a800" stroke-width="0.4"/>
<circle cx="548.0" cy="401.7" r="1.75" fill="url(#gy)" stroke="#b8a800" stroke-width="0.4"/>
<circle cx="481.7" cy="421.8" r="1.75" fill="url(#gy)" stroke="#b8a800" stroke-width="0.4"/>
<circle cx="548.0" cy="421.8" r="1.75" fill="url(#gy)" stroke="#b8a800" stroke-width="0.4"/>
<circle cx="481.7" cy="441.4" r="1.75" fill="url(#gy)" stroke="#b8a800" stroke-width="0.4"/>
<circle cx="548.0" cy="441.4" r="1.75" fill="url(#gy)" stroke="#b8a800" stroke-width="0.4"/>
<circle cx="480.4" cy="412.2" r="1.75" fill="url(#gy)" stroke="#b8a800" stroke-width="0.4"/>
<circle cx="549.3" cy="412.2" r="1.75" fill="url(#gy)" stroke="#b8a800" stroke-width="0.4"/>
<circle cx="480.4" cy="431.6" r="1.75" fill="url(#gy)" stroke="#b8a800" stroke-width="0.4"/>
<circle cx="549.3" cy="431.6" r="1.75" fill="url(#gy)" stroke="#b8a800" stroke-width="0.4"/>
</svg>
</body></html>
